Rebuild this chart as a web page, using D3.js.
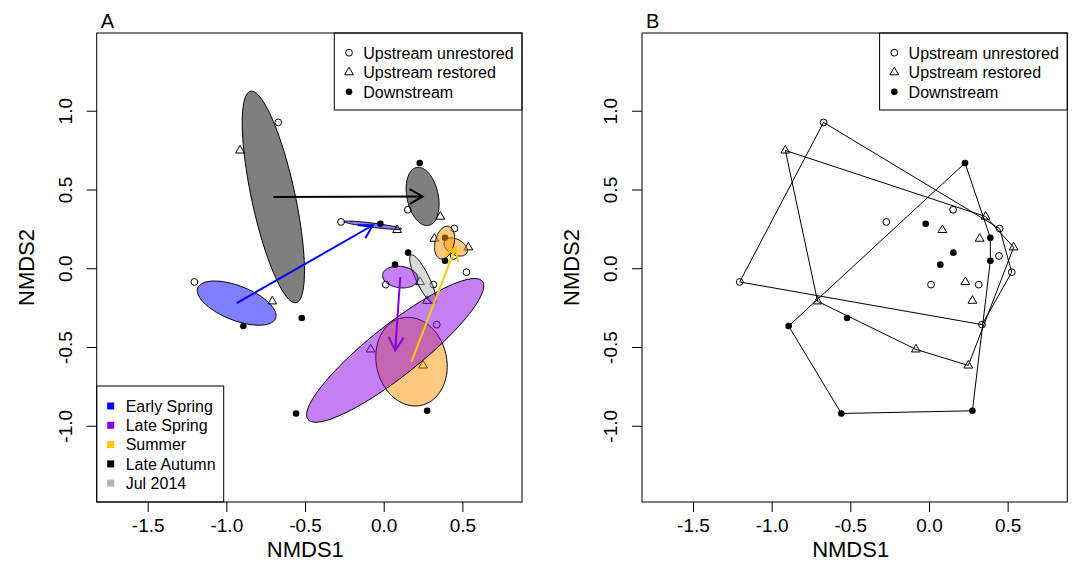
<!DOCTYPE html>
<html>
<head>
<meta charset="utf-8">
<script src="https://cdn.jsdelivr.net/npm/d3@7"></script>
<style>
  body { margin: 0; background: #fff; }
  svg { display: block; font-family: "Liberation Sans", Arial, sans-serif; }
</style>
</head>
<body>
<div id="chart"></div>
<script>
// NMDS scores, one row per sample (3 sites x 10 sampling occasions)
const nmds1 = [
  -1.203, -0.708, -0.892,   // early spring, year 1
  -0.271,  0.085, -0.021,   // early spring, year 2
   0.013,  0.231,  0.072,   // late spring, year 1
   0.526,  0.250, -0.557,   // late spring, year 2
   0.337, -0.083,  0.276,   // summer, year 1
   0.445,  0.538,  0.390,   // summer, year 2
   0.449,  0.322,  0.390,   // summer, extra
  -0.670, -0.913, -0.521,   // late autumn, year 1
   0.153,  0.360,  0.229,   // late autumn, year 2
   0.316,  0.276,  0.155    // jul 2014
];
const nmds2 = [
  -0.087, -0.210, -0.367,
   0.294,  0.243,  0.282,
  -0.104, -0.087,  0.023,
  -0.025, -0.617, -0.922,
  -0.358, -0.515, -0.905,
   0.078,  0.133,  0.193,
   0.252,  0.188,  0.048,
   0.926,  0.748, -0.316,
   0.371,  0.328,  0.668,
  -0.104, -0.206,  0.099
];
const site = d3.range(30).map(i => ["Upstream unrestored", "Upstream restored", "Downstream"][i % 3]);
const occasion = d3.range(30).map(i => Math.floor(i / 3));

const occasionSeason = [0, 0, 1, 1, 2, 2, 2, 3, 3, 4];
// draw order of the ellipses (summer under late spring)
const ellipseOrder = [4, 5, 6, 9, 2, 3, 0, 1, 7, 8];
const arrowFrom = [0, 2, 4, 7];
const arrowTo   = [1, 3, 5, 8];

const seasons = ["Early Spring", "Late Spring", "Summer", "Late Autumn", "Jul 2014"];
const siteNames = ["Upstream unrestored", "Upstream restored", "Downstream"];
const xTicks = [-1.5, -1.0, -0.5, 0.0, 0.5];
const yTicks = [-1.0, -0.5, 0.0, 0.5, 1.0];

// styles
const seasonColor = ["#0000ff", "#8a00e6", "#ffc800", "#000000", "#b3b3b3"];
const ellipseFill = ["#0000ff", "#8a00e6", "#ff9600", "#000000", "#b3b3b3"];

const W = 1075, H = 579;
const svg = d3.select("#chart").append("svg")
  .attr("width", W)
  .attr("height", H);

const plotTop = 33, plotBottom = 502, plotW = 425.3;

function symbol(g, s, cx, cy) {
  if (s === "Upstream unrestored") {
    g.append("circle").attr("cx", cx).attr("cy", cy).attr("r", 3.4)
      .attr("fill", "none").attr("stroke", "#000").attr("stroke-width", 1);
  } else if (s === "Upstream restored") {
    g.append("path")
      .attr("d", `M${cx},${cy - 5}L${cx + 4.4},${cy + 2.6}L${cx - 4.4},${cy + 2.6}Z`)
      .attr("fill", "none").attr("stroke", "#000").attr("stroke-width", 1);
  } else {
    g.append("circle").attr("cx", cx).attr("cy", cy).attr("r", 3.3)
      .attr("fill", "#000");
  }
}

function groupIdx(k) {
  return d3.range(30).filter(i => occasion[i] === k);
}

// standard deviation ellipse (like vegan::ordiellipse kind = "sd")
function ellipse(k) {
  const idx = groupIdx(k);
  const xs = idx.map(i => nmds1[i]), ys = idx.map(i => nmds2[i]);
  const n = xs.length, mx = d3.mean(xs), my = d3.mean(ys);
  let sxx = 0, syy = 0, sxy = 0;
  for (let j = 0; j < n; j++) {
    sxx += (xs[j] - mx) ** 2;
    syy += (ys[j] - my) ** 2;
    sxy += (xs[j] - mx) * (ys[j] - my);
  }
  sxx /= n - 1; syy /= n - 1; sxy /= n - 1;
  const tr = sxx + syy, det = sxx * syy - sxy * sxy;
  const disc = Math.sqrt(Math.max(0, tr * tr / 4 - det));
  const l1 = tr / 2 + disc, l2 = Math.max(0, tr / 2 - disc);
  let v1 = Math.abs(sxy) > 1e-12 ? [l1 - syy, sxy] : (sxx >= syy ? [1, 0] : [0, 1]);
  const len = Math.hypot(v1[0], v1[1]);
  v1 = [v1[0] / len, v1[1] / len];
  const v2 = [-v1[1], v1[0]];
  const a = Math.sqrt(l1), b = Math.sqrt(l2);
  return d3.range(100).map(j => {
    const t = 2 * Math.PI * j / 100;
    return [mx + a * Math.cos(t) * v1[0] + b * Math.sin(t) * v2[0],
            my + a * Math.cos(t) * v1[1] + b * Math.sin(t) * v2[1]];
  });
}

function centroid(k) {
  const idx = groupIdx(k);
  return [d3.mean(idx, i => nmds1[i]), d3.mean(idx, i => nmds2[i])];
}

function drawPanel(left, label, withEllipses) {
  const x = d3.scaleLinear().domain([-1.824, 0.879]).range([left, left + plotW]);
  const y = d3.scaleLinear().domain([-1.484, 1.4935]).range([plotBottom, plotTop]);
  const g = svg.append("g");

  // axes
  g.append("g")
    .attr("transform", `translate(0,${plotBottom})`)
    .call(d3.axisBottom(x).tickValues(xTicks).tickSize(10).tickFormat(d => d.toFixed(1)))
    .call(a => a.select(".domain").remove())
    .call(a => a.selectAll("text")
      .attr("y", 30).attr("dy", 0)
      .attr("font-size", "19px").attr("font-family", "Liberation Sans, Arial, sans-serif")
      .attr("fill", "#000"));

  g.append("g")
    .attr("transform", `translate(${left},0)`)
    .call(d3.axisLeft(y).tickValues(yTicks).tickSize(10).tickFormat(d => d.toFixed(1)))
    .call(a => a.select(".domain").remove())
    .call(a => a.selectAll("text")
      .attr("transform", "rotate(-90)")
      .attr("x", 0).attr("y", -25).attr("dy", 0)
      .attr("text-anchor", "middle")
      .attr("font-size", "19px").attr("font-family", "Liberation Sans, Arial, sans-serif")
      .attr("fill", "#000"));

  g.selectAll(".tick line").attr("stroke", "#000");

  // axis titles
  g.append("text")
    .attr("x", left + plotW / 2 - 4)
    .attr("y", 557)
    .attr("text-anchor", "middle")
    .attr("font-size", "22px")
    .text("NMDS1");
  g.append("text")
    .attr("transform", `translate(${left - 63},${(plotTop + plotBottom) / 2}) rotate(-90)`)
    .attr("text-anchor", "middle")
    .attr("font-size", "22px")
    .text("NMDS2");

  // panel letter
  g.append("text")
    .attr("x", left + 4)
    .attr("y", 28)
    .attr("font-size", "20px")
    .text(label);

  // points
  const pts = g.append("g");
  d3.range(30).forEach(i => symbol(pts, site[i], x(nmds1[i]), y(nmds2[i])));

  if (withEllipses) {
    const line = d3.line().x(d => x(d[0])).y(d => y(d[1])).curve(d3.curveLinearClosed);
    ellipseOrder.forEach(k => {
      g.append("path")
        .attr("d", line(ellipse(k)))
        .attr("fill", ellipseFill[occasionSeason[k]])
        .attr("fill-opacity", 0.5)
        .attr("stroke", "#000")
        .attr("stroke-width", 1);
    });

    arrowFrom.forEach((f, j) => {
      const c0 = centroid(f), c1 = centroid(arrowTo[j]);
      const x0 = x(c0[0]), y0 = y(c0[1]), x1 = x(c1[0]), y1 = y(c1[1]);
      const ang = Math.atan2(y0 - y1, x0 - x1);
      const hl = 15, ha = Math.PI / 6;
      const col = seasonColor[occasionSeason[f]];
      g.append("line")
        .attr("x1", x0).attr("y1", y0).attr("x2", x1).attr("y2", y1)
        .attr("stroke", col).attr("stroke-width", 2);
      g.append("path")
        .attr("d", `M${x1 + hl * Math.cos(ang + ha)},${y1 + hl * Math.sin(ang + ha)}L${x1},${y1}L${x1 + hl * Math.cos(ang - ha)},${y1 + hl * Math.sin(ang - ha)}`)
        .attr("fill", "none").attr("stroke", col).attr("stroke-width", 2);
    });
  } else {
    // convex hull of each site
    siteNames.forEach(s => {
      const hull = d3.polygonHull(d3.range(30).filter(i => site[i] === s)
        .map(i => [x(nmds1[i]), y(nmds2[i])]));
      g.append("path")
        .attr("d", "M" + hull.join("L") + "Z")
        .attr("fill", "none")
        .attr("stroke", "#000")
        .attr("stroke-width", 1);
    });
  }

  // site legend (top right)
  const lx = left + 237.6;
  const lg = g.append("g");
  lg.append("rect")
    .attr("x", lx).attr("y", plotTop)
    .attr("width", left + plotW - lx).attr("height", 77)
    .attr("fill", "#fff").attr("stroke", "#000").attr("stroke-width", 1);
  siteNames.forEach((s, j) => {
    const cy = 52.7 + j * 19.5;
    symbol(lg, s, lx + 14.7, cy);
    lg.append("text")
      .attr("x", lx + 29).attr("y", cy + 5.8)
      .attr("font-size", "16px")
      .text(s);
  });

  // season legend (bottom left), panel A only
  if (withEllipses) {
    const sg = g.append("g");
    sg.append("rect")
      .attr("x", left).attr("y", 386)
      .attr("width", 127).attr("height", plotBottom - 386)
      .attr("fill", "#fff").attr("stroke", "#000").attr("stroke-width", 1);
    seasons.forEach((s, j) => {
      const cy = 406 + j * 19.3;
      sg.append("rect")
        .attr("x", left + 14 - 3.5).attr("y", cy - 3.5)
        .attr("width", 7).attr("height", 7)
        .attr("fill", seasonColor[j]);
      sg.append("text")
        .attr("x", left + 29).attr("y", cy + 5.8)
        .attr("font-size", "16px")
        .text(s);
    });
  }

  // plot box
  g.append("rect")
    .attr("x", left).attr("y", plotTop)
    .attr("width", plotW).attr("height", plotBottom - plotTop)
    .attr("fill", "none").attr("stroke", "#000").attr("stroke-width", 1);
}

drawPanel(96.7, "A", true);
drawPanel(642, "B", false);
</script>
</body>
</html>
